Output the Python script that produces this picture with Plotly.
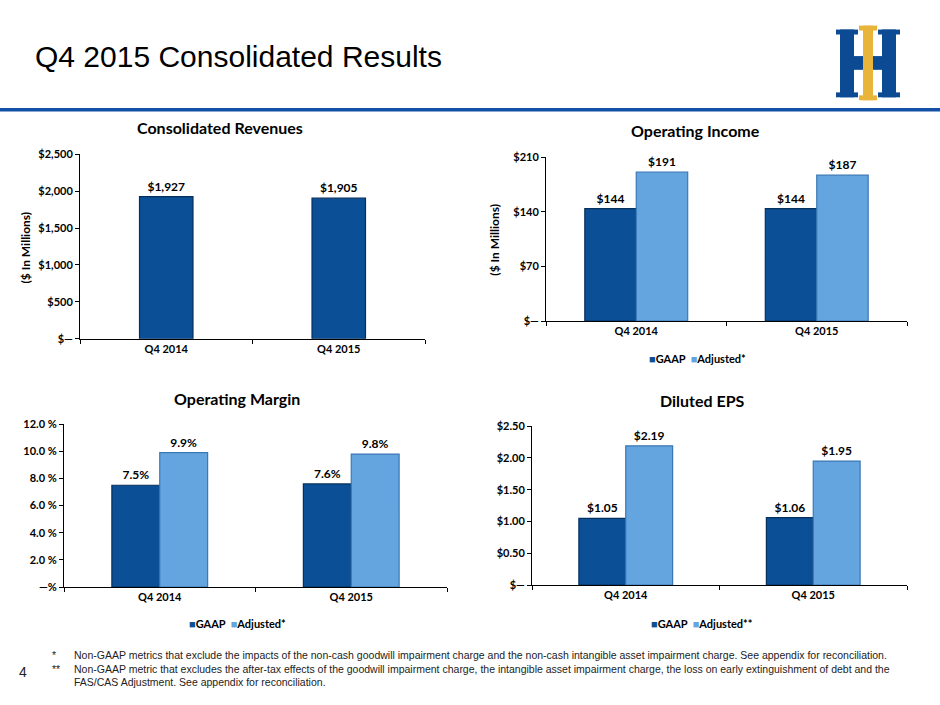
import plotly.graph_objects as go

# ---- data ----
quarters = ["Q4 2014", "Q4 2015"]

revenues = [1927, 1905]
rev_labels = ["$1,927", "$1,905"]

op_income_gaap = [144, 144]
op_income_adj = [191, 187]

op_margin_gaap = [7.5, 7.6]
op_margin_adj = [9.9, 9.8]

eps_gaap = [1.05, 1.06]
eps_adj = [2.19, 1.95]

rev_ticks = [0, 500, 1000, 1500, 2000, 2500]
rev_ticktext = ["$\u2014", "$500", "$1,000", "$1,500", "$2,000", "$2,500"]
inc_ticks = [0, 70, 140, 210]
inc_ticktext = ["$\u2014", "$70", "$140", "$210"]
mar_ticks = [0, 2, 4, 6, 8, 10, 12]
mar_ticktext = ["\u2014%", "2.0 %", "4.0 %", "6.0 %", "8.0 %", "10.0 %", "12.0 %"]
eps_ticks = [0, 0.5, 1.0, 1.5, 2.0, 2.5]
eps_ticktext = ["$\u2014", "$0.50", "$1.00", "$1.50", "$2.00", "$2.50"]

footnotes = [
    "Non-GAAP metrics that exclude the impacts of the non-cash goodwill impairment charge and the non-cash intangible asset impairment charge. See appendix for reconciliation.",
    "Non-GAAP metric that excludes the after-tax effects of the goodwill impairment charge, the intangible asset impairment charge, the loss on early extinguishment of debt and the",
    "FAS/CAS Adjustment. See appendix for reconciliation.",
]
foot_marks = ["*", "**", "&nbsp;"]

W, H = 940, 705
DARK = "#0B4F96"
DARK_EDGE = "#05305E"
LIGHT = "#64A5E0"
LIGHT_EDGE = "#3A78B4"
BOLD = "Lato"


def px(x):
    return x / W


def py(y):
    return 1 - y / H


fig = go.Figure()

lbl_font = dict(family=BOLD, size=12, color="black", weight="bold")


def bar(xa, ya, vals, texts, color, edge, name, offset, width):
    fig.add_trace(go.Bar(
        x=quarters, y=vals, xaxis=xa, yaxis=ya, name=name,
        marker=dict(color=color, line=dict(color=edge, width=1.2)),
        offset=offset, width=width,
        text=texts, textposition="outside", textfont=lbl_font, cliponaxis=False,
        showlegend=False,
    ))


# panel 1 - revenues
bar("x", "y", revenues, rev_labels, DARK, DARK_EDGE, "Revenues", -0.155, 0.31)
# panel 2 - operating income
bar("x2", "y2", op_income_gaap, [f"${v}" for v in op_income_gaap], DARK, DARK_EDGE, "GAAP", -0.285, 0.285)
bar("x2", "y2", op_income_adj, [f"${v}" for v in op_income_adj], LIGHT, LIGHT_EDGE, "Adjusted*", 0, 0.285)
# panel 3 - operating margin
bar("x3", "y3", op_margin_gaap, [f"{v:.1f}%" for v in op_margin_gaap], DARK, DARK_EDGE, "GAAP", -0.25, 0.25)
bar("x3", "y3", op_margin_adj, [f"{v:.1f}%" for v in op_margin_adj], LIGHT, LIGHT_EDGE, "Adjusted*", 0, 0.25)
# panel 4 - diluted eps
bar("x4", "y4", eps_gaap, [f"${v:.2f}" for v in eps_gaap], DARK, DARK_EDGE, "GAAP", -0.25, 0.25)
bar("x4", "y4", eps_adj, [f"${v:.2f}" for v in eps_adj], LIGHT, LIGHT_EDGE, "Adjusted**", 0, 0.25)

tick_font = dict(family=BOLD, size=11, color="black", weight="bold")


def xax(dom, anchor):
    return dict(domain=dom, anchor=anchor, type="category", showline=True, linecolor="black",
                linewidth=1, ticks="outside", tickson="boundaries", ticklen=4, tickcolor="black",
                tickfont=tick_font, showgrid=False, zeroline=False, fixedrange=True)


def yax(dom, anchor, rng, tv, tt):
    return dict(domain=dom, anchor=anchor, range=rng, tickvals=tv, ticktext=tt, showline=True,
                linecolor="black", linewidth=1, ticks="outside", ticklen=4, tickcolor="black",
                tickfont=tick_font, showgrid=False, zeroline=False, fixedrange=True)


fig.update_layout(
    width=W, height=H, margin=dict(l=0, r=0, t=0, b=0),
    paper_bgcolor="white", plot_bgcolor="white",
    barmode="overlay",
    xaxis=xax([px(80), px(425)], "y"),
    yaxis=yax([py(338), py(150)], "x", [0, 2500], rev_ticks, rev_ticktext),
    xaxis2=xax([px(546), px(907)], "y2"),
    yaxis2=yax([py(320), py(153)], "x2", [0, 210], inc_ticks, inc_ticktext),
    xaxis3=xax([px(64), px(447)], "y3"),
    yaxis3=yax([py(591), py(425)], "x3", [0, 12], mar_ticks, mar_ticktext),
    xaxis4=xax([px(532), px(907)], "y4"),
    yaxis4=yax([py(589), py(427)], "x4", [0, 2.5], eps_ticks, eps_ticktext),
)

ann = []
title_font = dict(family=BOLD, size=16, color="black", weight="bold")
for txt, x, y in [("Consolidated Revenues", 220, 123), ("Operating Income", 695, 126),
                  ("Operating Margin", 237, 399), ("Diluted EPS", 702, 401)]:
    ann.append(dict(text=txt, x=px(x), y=py(y), xref="paper", yref="paper",
                    showarrow=False, font=title_font, xanchor="center", yanchor="middle"))
for x, y in [(25, 245), (495, 237)]:
    ann.append(dict(text="($ In Millions)", x=px(x), y=py(y), xref="paper", yref="paper",
                    showarrow=False, textangle=-90,
                    font=dict(family=BOLD, size=12, color="black", weight="bold"),
                    xanchor="center", yanchor="middle"))

# compact legends, drawn the way the slide does them
leg_font = dict(family=BOLD, size=11, color="black", weight="bold")
for adj_name, x, y in [("Adjusted*", 697, 358), ("Adjusted*", 237, 628), ("Adjusted**", 702, 628)]:
    txt = (f"<span style='color:{DARK}'>\u25A0</span>GAAP  "
           f"<span style='color:{LIGHT}'>\u25A0</span>{adj_name}")
    ann.append(dict(text=txt, x=px(x), y=py(y), xref="paper", yref="paper", showarrow=False,
                    xanchor="center", yanchor="middle", font=leg_font))

ann.append(dict(text="Q4 2015 Consolidated Results", x=px(33), y=py(50), xref="paper", yref="paper",
                showarrow=False, xanchor="left", yanchor="middle",
                font=dict(family="Liberation Sans, Arial", size=30, color="black")))
ann.append(dict(text="4", x=px(23), y=py(677), xref="paper", yref="paper", showarrow=False,
                xanchor="center", yanchor="middle",
                font=dict(family="Liberation Sans, Arial", size=14, color="#222")))

foot_font = dict(family="Liberation Sans, Arial", size=10.5, color="#222")
ann.append(dict(text="<br>".join(foot_marks), x=px(50), y=py(674), xref="paper", yref="paper",
                showarrow=False, xanchor="left", yanchor="middle", align="left", font=foot_font))
ann.append(dict(text="<br>".join(footnotes), x=px(72), y=py(674), xref="paper", yref="paper",
                showarrow=False, xanchor="left", yanchor="middle", align="left", font=foot_font))
fig.update_layout(annotations=ann)

# header rule and logo
shapes = [dict(type="rect", xref="paper", yref="paper", x0=0, x1=1, y0=py(106.5), y1=py(103),
               fillcolor="#1150A6", line_width=0)]
BLUE_LOGO = "#0D4A94"
GOLD_LOGO = "#E8B53A"


def rect(x0, y0, x1, y1, c):
    shapes.append(dict(type="rect", xref="paper", yref="paper", x0=px(x0), x1=px(x1),
                       y0=py(y1), y1=py(y0), fillcolor=c, line_width=0))


# left blue column
rect(836, 23, 858, 28, BLUE_LOGO)
rect(840, 23, 854, 92, BLUE_LOGO)
rect(836, 87, 858, 92, BLUE_LOGO)
rect(854, 50, 863, 64, BLUE_LOGO)
# right blue column
rect(878, 23, 900, 28, BLUE_LOGO)
rect(882, 23, 896, 92, BLUE_LOGO)
rect(878, 87, 900, 92, BLUE_LOGO)
rect(873, 50, 882, 64, BLUE_LOGO)
# gold centre
rect(859, 19, 877, 24, GOLD_LOGO)
rect(863, 19, 873, 95, GOLD_LOGO)
rect(859, 90, 877, 95, GOLD_LOGO)
fig.update_layout(shapes=shapes)

fig.write_html("out.html", config={"displayModeBar": False},
               post_script="document.body.style.margin='0';")
